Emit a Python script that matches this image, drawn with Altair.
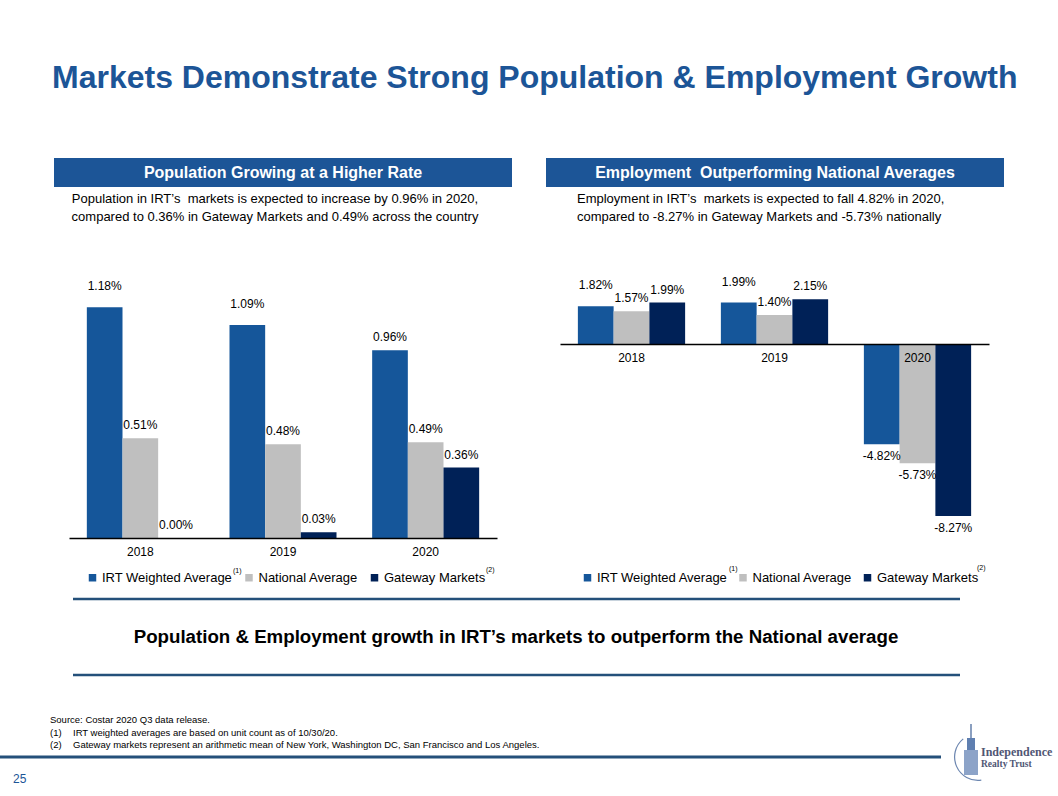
import altair as alt
import pandas as pd

# ---------------- data ----------------
years = ["2018", "2019", "2020"]
series_names = ["IRT Weighted Average", "National Average", "Gateway Markets"]

pop_irt = [1.18, 1.09, 0.96]
pop_nat = [0.51, 0.48, 0.49]
pop_gw = [0.00, 0.03, 0.36]

emp_irt = [1.82, 1.99, -4.82]
emp_nat = [1.57, 1.40, -5.73]
emp_gw = [1.99, 2.15, -8.27]

colors = ["#15569A", "#BFBFBF", "#002157"]
BLUE = "#1C5597"
LINE = "#24507A"
FONT = "Liberation Sans"


def long_df(irt, nat, gw):
    rows = []
    for i, yr in enumerate(years):
        for s, vals in zip(series_names, [irt, nat, gw]):
            rows.append({"year": yr, "series": s, "value": vals[i]})
    return pd.DataFrame(rows)


def bar_panel(df, x_range, y_domain, y_range, axis_y, legend_x, legend_y, col_pad):
    base = alt.Chart(df).encode(
        x=alt.X(
            "year:N",
            sort=years,
            scale=alt.Scale(range=x_range, paddingInner=0.25, paddingOuter=0.125),
            axis=alt.Axis(
                orient="bottom", offset=axis_y - 796, title=None, ticks=False,
                labelAngle=0, labelFontSize=12, labelFont=FONT, labelColor="#000",
                labelPadding=8, domainColor="#000", domainWidth=1.3, grid=False, zindex=1,
            ),
        ),
        xOffset=alt.XOffset(
            "series:N", sort=series_names,
            scale=alt.Scale(domain=series_names, paddingInner=0, paddingOuter=0),
        ),
        y=alt.Y("value:Q", scale=alt.Scale(domain=y_domain, range=y_range, nice=False), axis=None),
    )
    bars = base.mark_bar().encode(
        color=alt.Color(
            "series:N",
            scale=alt.Scale(domain=series_names, range=colors),
            legend=alt.Legend(
                orient="none", legendX=legend_x, legendY=legend_y, direction="horizontal",
                title=None, symbolType="square", symbolSize=56, symbolStrokeWidth=0,
                labelFontSize=13, labelFont=FONT, labelColor="#000", labelOffset=3,
                columnPadding=col_pad, labelLimit=300,
            ),
        )
    )
    lab = base.transform_calculate(
        lab="(datum.value < 0 ? '-' : '') + format(abs(datum.value), '.2f') + '%'"
    )
    tprops = dict(fontSize=12, font=FONT, color="#000", baseline="middle")
    high = lab.transform_filter(
        "datum.series == 'IRT Weighted Average' && datum.year != '2020' && datum.value >= 0"
    ).mark_text(dy=-21, **tprops).encode(text="lab:N")
    pos = lab.transform_filter(
        "!(datum.series == 'IRT Weighted Average' && datum.year != '2020') && datum.value >= 0"
    ).mark_text(dy=-13, **tprops).encode(text="lab:N")
    neg = lab.transform_filter("datum.value < 0").mark_text(dy=12, **tprops).encode(text="lab:N")
    return alt.layer(bars, high, pos, neg)


one = alt.Data(values=[{}])


def txt(s, x, y, size, color="#000", weight="normal", align="left", font=FONT):
    return alt.Chart(one).mark_text(
        text=s, fontSize=size, color=color, fontWeight=weight, align=align,
        baseline="middle", font=font,
    ).encode(x=alt.value(x), y=alt.value(y))


def rect(x, x2, y, y2, color):
    return alt.Chart(one).mark_rect(color=color).encode(
        x=alt.value(x), x2=alt.value(x2), y=alt.value(y), y2=alt.value(y2)
    )


def hrule(x, x2, y, color, w):
    return alt.Chart(one).mark_rule(color=color, strokeWidth=w).encode(
        x=alt.value(x), x2=alt.value(x2), y=alt.value(y)
    )


left = bar_panel(long_df(pop_irt, pop_nat, pop_gw), [69, 497], [0, 1.4],
                 [538, 538 - 1.4 * 195.5], 538, 86, 571, 9.5)
right = bar_panel(long_df(emp_irt, emp_nat, emp_gw), [560, 989], [-9, 3],
                  [344 + 9 * 20.8, 344 - 3 * 20.8], 344, 581, 571, 8.5)

decor = [
    txt("Markets Demonstrate Strong Population & Employment Growth", 52, 78, 32, BLUE, "bold"),
    rect(54, 512, 158, 187, BLUE),
    rect(546, 1004, 158, 187, BLUE),
    txt("Population Growing at a Higher Rate", 283, 172.5, 16, "#fff", "bold", "center"),
    txt("Employment\u00a0 Outperforming National Averages", 775, 172.5, 16, "#fff", "bold", "center"),
    txt("Population in IRT\u2019s\u00a0 markets is expected to increase by 0.96% in 2020,", 275, 199, 13, align="center"),
    txt("compared to 0.36% in Gateway Markets and 0.49% across the country", 275, 217, 13, align="center"),
    txt("Employment in IRT\u2019s\u00a0 markets is expected to fall 4.82% in 2020,", 577, 199, 13),
    txt("compared to -8.27% in Gateway Markets and -5.73% nationally", 577, 217, 13),
    # legend footnote markers
    txt("(1)", 233, 571, 7),
    txt("(2)", 486, 570, 7),
    txt("(1)", 729, 569, 7),
    txt("(2)", 977, 568, 7),
    hrule(73, 960, 599, LINE, 2.5),
    hrule(73, 960, 675, LINE, 2.5),
    txt("Population & Employment growth in IRT\u2019s markets to outperform the National average",
        516, 637, 18.7, "#000", "bold", "center"),
    txt("Source: Costar 2020 Q3 data release.", 50, 720, 9.5),
    txt("(1)", 50, 733, 9.5),
    txt("IRT weighted averages are based on unit count as of 10/30/20.", 73, 733, 9.5),
    txt("(2)", 50, 745, 9.5),
    txt("Gateway markets represent an arithmetic mean of New York, Washington DC, San Francisco and Los Angeles.",
        73, 745, 9.5),
    hrule(0, 941, 757, LINE, 3),
    txt("25", 13, 779, 12, BLUE),
    # logo
    alt.Chart(one).mark_arc(radius=24, radius2=22.8, theta=3.0, theta2=5.6, color="#6C86B0").encode(
        x=alt.value(978), y=alt.value(757)),
    alt.Chart(one).mark_rule(color="#3D5F95", strokeWidth=1.2).encode(
        x=alt.value(971), y=alt.value(724), y2=alt.value(742)),
    rect(967, 975, 738, 751, "#5F7FB0"),
    rect(964, 978, 750, 775, "#8CA3C8"),
    txt("Independence", 981, 752, 12, "#505674", "bold", font="Liberation Serif"),
    txt("Realty Trust", 981, 764, 9.5, "#505674", "bold", font="Liberation Serif"),
]

chart = alt.layer(left, right, *decor).resolve_scale(
    x="independent", y="independent", color="independent", xOffset="independent"
).properties(
    width=1058, height=796, autosize=alt.AutoSizeParams(type="none"), padding=0,
    background="#ffffff",
).configure_view(stroke=None)

chart.save("out.html", embed_options={"renderer": "svg", "actions": False})
